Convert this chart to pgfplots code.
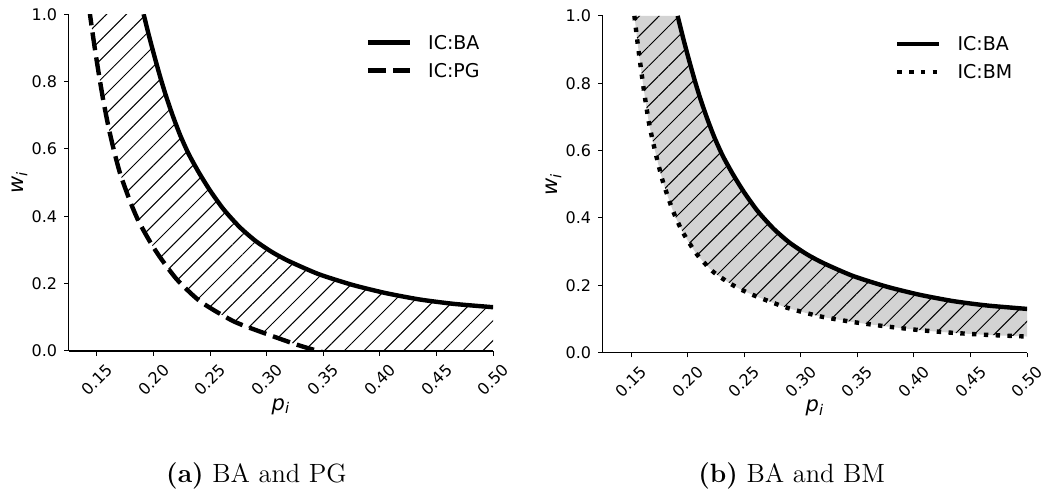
\documentclass[border=0pt]{standalone}
\usepackage{fontspec}
\newfontfamily\dejavu{DejaVu Sans}
\usepackage{pgfplots}
\pgfplotsset{compat=1.18}
\usepackage{pgfplotstable}
\usepgfplotslibrary{fillbetween}
\usetikzlibrary{patterns.meta}

\definecolor{fillgrey}{HTML}{D3D3D3}

% IC:BA boundary (same in both panels)
\pgfplotstableread{
p w
0.1912 1.000
0.1960 0.935
0.2010 0.872
0.2060 0.812
0.2110 0.757
0.2170 0.698
0.2236 0.640
0.2310 0.585
0.2400 0.530
0.2500 0.476
0.2620 0.420
0.2760 0.368
0.2900 0.327
0.3050 0.293
0.3200 0.266
0.3460 0.228
0.3760 0.196
0.4050 0.172
0.4350 0.153
0.4650 0.140
0.5000 0.130
}\tabBA

% IC:PG boundary
\pgfplotstableread{
p w
0.1430 1.020
0.1450 0.970
0.1480 0.900
0.1515 0.825
0.1555 0.745
0.1603 0.663
0.1650 0.595
0.1706 0.525
0.1794 0.443
0.1868 0.385
0.1971 0.323
0.2060 0.277
0.2207 0.212
0.2413 0.147
0.2708 0.088
0.3003 0.050
0.3238 0.022
0.3380 0.007
0.3700 -0.022
0.4100 -0.055
0.4500 -0.085
0.5000 -0.120
}\tabPG

% IC:BM boundary
\pgfplotstableread{
p w
0.1530 1.000
0.1560 0.915
0.1590 0.838
0.1620 0.765
0.1660 0.680
0.1712 0.600
0.1780 0.510
0.1850 0.440
0.1897 0.400
0.1962 0.355
0.2080 0.293
0.2227 0.240
0.2403 0.200
0.2580 0.171
0.2874 0.134
0.3169 0.108
0.3463 0.091
0.3757 0.078
0.4051 0.067
0.4345 0.059
0.4640 0.053
0.5000 0.048
}\tabBM

\pgfplotsset{
  panel/.style={
    set layers,
    scale only axis,
    width=212.2pt, height=168.4pt,
    xmin=0.125, xmax=0.5, ymin=0, ymax=1,
    axis x line*=bottom, axis y line*=left,
    axis line style={-, line width=0.6pt},
    tick align=outside,
    major tick length=2.3pt,
    tick style={black, line width=0.5pt},
    xtick={0.15,0.2,0.25,0.3,0.35,0.4,0.45,0.5},
    ytick={0,0.2,0.4,0.6,0.8,1.0},
    /pgf/number format/assume math mode=true,
    tick label style={font=\dejavu\fontsize{8}{9.5}\selectfont},
    xticklabel style={/pgf/number format/fixed, /pgf/number format/fixed zerofill,
      /pgf/number format/precision=2, yshift=-12pt, rotate=45, anchor=center},
    yticklabel style={/pgf/number format/fixed, /pgf/number format/fixed zerofill,
      /pgf/number format/precision=1},
    xlabel={\dejavu\itshape p\textsubscript{i}},
    ylabel={\dejavu\itshape w\textsubscript{i}},
    label style={font=\fontsize{10.5}{12}\selectfont},
    xlabel style={at={(axis description cs:0.5,-0.1756)}, anchor=base},
    ylabel style={at={(axis description cs:-0.106,0.5)}, anchor=base},
    legend style={draw=none, fill=none, inner sep=0pt, column sep=8pt, row sep=7.1pt,
      font=\dejavu\fontsize{9.5}{9.5}\selectfont,
      nodes={inner sep=0pt, text height=6.9pt, text depth=0pt}},
    legend cell align=left,
    legend image code/.code={\draw[#1] (0pt,0pt) -- (21pt,0pt);},
  },
  curve/.style={black, line width=2.2pt, smooth, tension=0.4},
}

\begin{document}
\begin{tikzpicture}

\begin{axis}[panel, at={(34.35pt,73pt)}, anchor=south west,
  legend style={at={(axis description cs:0.699,0.938)}, anchor=north west}]
\addplot[curve, name path=BA] table[x=p, y=w] {\tabBA};
\addlegendentry{IC:BA}
\addplot[curve, dash pattern=on 9pt off 3.6pt, name path=PG] table[x=p, y=w] {\tabPG};
\addlegendentry{IC:PG}
\addplot[forget plot, draw=none, pattern={Lines[angle=45, distance=7pt, line width=0.5pt]},
  pattern color=black] fill between[of=BA and PG];
\end{axis}

\begin{axis}[panel, at={(301.35pt,72.15pt)}, anchor=south west,
  legend style={at={(axis description cs:0.688,0.938)}, anchor=north west}]
\addplot[curve, name path=BA] table[x=p, y=w] {\tabBA};
\addlegendentry{IC:BA}
\addplot[curve, dash pattern=on 2.2pt off 3.7pt, name path=BM] table[x=p, y=w] {\tabBM};
\addlegendentry{IC:BM}
\addplot[forget plot, draw=none, fill=fillgrey] fill between[of=BA and BM];
\addplot[forget plot, draw=none, pattern={Lines[angle=45, distance=7pt, line width=0.5pt]},
  pattern color=black] fill between[of=BA and BM];
\end{axis}

\node[font=\fontsize{13.2}{15}\selectfont, anchor=base] at (128.25pt,7pt) {\textbf{(a)} BA and PG};
\node[font=\fontsize{13.2}{15}\selectfont, anchor=base] at (395.85pt,7pt) {\textbf{(b)} BA and BM};

\pgfresetboundingbox
\path[use as bounding box] (0,0) rectangle (521pt,248.5pt);
\end{tikzpicture}
\end{document}
